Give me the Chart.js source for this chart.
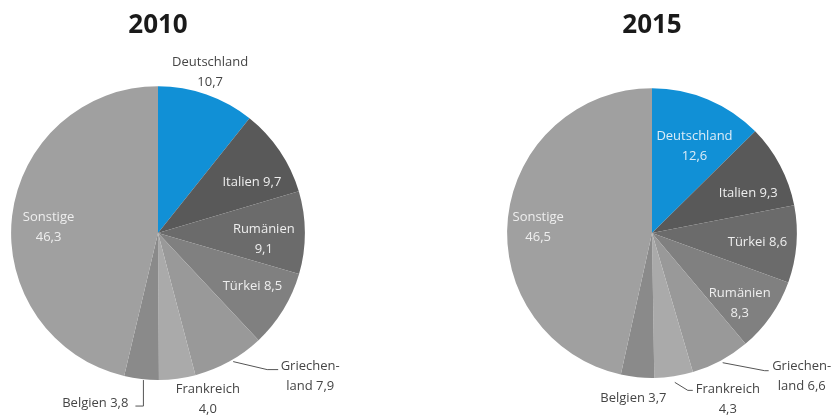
<!DOCTYPE html>
<html>
<head>
<meta charset="utf-8">
<script src="https://cdn.jsdelivr.net/npm/chart.js@4/dist/chart.umd.min.js"></script>
<style>
  html, body { margin: 0; padding: 0; background: #fff; }
  #wrap { position: relative; width: 835px; height: 419px; }
  .box { position: absolute; top: 0; width: 417px; height: 419px; }
</style>
</head>
<body>
<div id="wrap">
  <div class="box" style="left:0"><canvas id="pie2010"></canvas></div>
  <div class="box" style="left:418px"><canvas id="pie2015"></canvas></div>
</div>
<script>
// ── DATA ──────────────────────────────────────────────────────
const years = ['2010', '2015'];
const countries2010 = ['Deutschland', 'Italien', 'Rumänien', 'Türkei', 'Griechenland', 'Frankreich', 'Belgien', 'Sonstige'];
const values2010 = [10.7, 9.7, 9.1, 8.5, 7.9, 4.0, 3.8, 46.3];
const countries2015 = ['Deutschland', 'Italien', 'Türkei', 'Rumänien', 'Griechenland', 'Frankreich', 'Belgien', 'Sonstige'];
const values2015 = [12.6, 9.3, 8.6, 8.3, 6.6, 4.3, 3.7, 46.5];

// slice colours by position (clockwise from 12 o'clock)
const sliceColors = ['#1190d6', '#595959', '#6b6b6b', '#808080', '#999999', '#aaaaaa', '#8a8a8a', '#a0a0a0'];

const INSIDE = '#eeeeee';
const OUTSIDE = '#454545';
const fmt = v => v.toFixed(1).replace('.', ',');

// label placement: k = fraction of radius on the mid angle, dx/dy nudges,
// leader = polyline offsets from the slice edge point
const place2010 = [
  { text: ['{n}', '{v}'], k: 1.2, dx: -6, dy: 6, color: OUTSIDE },
  { text: ['{n} {v}'], k: 0.73, dx: 5, dy: 9, color: INSIDE },
  { text: ['{n}', '{v}'], k: 0.72, dx: 0, dy: 7, color: INSIDE },
  { text: ['{n} {v}'], k: 0.73, dx: 3, dy: -3, color: INSIDE },
  { text: ['Griechen-', 'land {v}'], k: 1, dx: 81, dy: 15, color: OUTSIDE, leader: [[4, 0], [38, 8], [49, 8]] },
  { text: ['{n}', '{v}'], k: 1.18, dx: 27, dy: -6, color: OUTSIDE },
  { text: ['{n} {v}'], k: 1, dx: -13, dy: 24, color: OUTSIDE, align: 'right', leader: [[2, 1], [2, 27], [-6, 27]] },
  { text: ['{n}', '{v}'], k: 0.75, dx: 0, dy: 7, color: INSIDE },
];
const place2015 = [
  { text: ['{n}', '{v}'], k: 0.67, dx: 5, dy: 3, color: '#dcecf7' },
  { text: ['{n} {v}'], k: 0.72, dx: 4, dy: 9, color: INSIDE },
  { text: ['{n} {v}'], k: 0.73, dx: 0, dy: 1, color: INSIDE },
  { text: ['{n}', '{v}'], k: 0.78, dx: -5, dy: 6, color: INSIDE },
  { text: ['Griechen-', 'land {v}'], k: 1, dx: 81, dy: 16, color: OUTSIDE, leader: [[2, 2], [44, 10], [48, 10]] },
  { text: ['{n}', '{v}'], k: 1, dx: 54, dy: 23, color: OUTSIDE, leader: [[1, 6], [14, 14], [19, 14]] },
  { text: ['{n} {v}'], k: 1.14, dx: -2, dy: 1, color: OUTSIDE },
  { text: ['{n}', '{v}'], k: 0.79, dx: 0, dy: 7, color: INSIDE },
];

// ── LABEL PLUGIN ──────────────────────────────────────────────
const pieLabels = {
  id: 'pieLabels',
  afterDatasetsDraw(chart, args, opts) {
    const { ctx } = chart;
    const meta = chart.getDatasetMeta(0);
    const names = chart.data.labels;
    const vals = chart.data.datasets[0].data;
    ctx.save();
    ctx.font = '13px "Open Sans"';
    ctx.textBaseline = 'middle';
    opts.items.forEach((p, i) => {
      const arc = meta.data[i];
      const mid = (arc.startAngle + arc.endAngle) / 2;
      const r = arc.outerRadius;
      const ex = arc.x + Math.cos(mid) * r;
      const ey = arc.y + Math.sin(mid) * r;
      if (p.leader) {
        ctx.strokeStyle = '#555';
        ctx.lineWidth = 1;
        ctx.beginPath();
        p.leader.forEach(([lx, ly], j) => {
          if (j === 0) ctx.moveTo(ex + lx, ey + ly); else ctx.lineTo(ex + lx, ey + ly);
        });
        ctx.stroke();
      }
      const x = arc.x + Math.cos(mid) * r * p.k + p.dx;
      const y = arc.y + Math.sin(mid) * r * p.k + p.dy;
      const lines = p.text.map(t => t.replace('{n}', names[i]).replace('{v}', fmt(vals[i])));
      const lh = 20;
      ctx.fillStyle = p.color;
      ctx.textAlign = p.align || 'center';
      lines.forEach((ln, j) => {
        ctx.fillText(ln, x, y + (j - (lines.length - 1) / 2) * lh);
      });
    });
    ctx.restore();
  }
};

function makePie(id, title, labels, data, place, pad, titleBottom) {
  new Chart(document.getElementById(id), {
    type: 'pie',
    data: {
      labels,
      datasets: [{
        data,
        backgroundColor: sliceColors,
        borderWidth: 0,
      }]
    },
    options: {
      responsive: true,
      maintainAspectRatio: false,
      animation: false,
      layout: { padding: pad },
      plugins: {
        legend: { display: false },
        tooltip: { enabled: false },
        title: {
          display: true,
          text: title,
          color: '#1a1a1a',
          font: { family: 'Open Sans', weight: 'bold', size: 26, lineHeight: 1.2 },
          padding: { top: 10, bottom: titleBottom }
        },
        pieLabels: { items: place }
      }
    },
    plugins: [pieLabels]
  });
}

makePie('pie2010', years[0], countries2010, values2010, place2010,
  { left: 11, right: 112, top: 0, bottom: 39 }, 45);
makePie('pie2015', years[1], countries2015, values2015, place2015,
  { left: 89, right: 38, top: 0, bottom: 41 }, 47);
</script>
</body>
</html>
